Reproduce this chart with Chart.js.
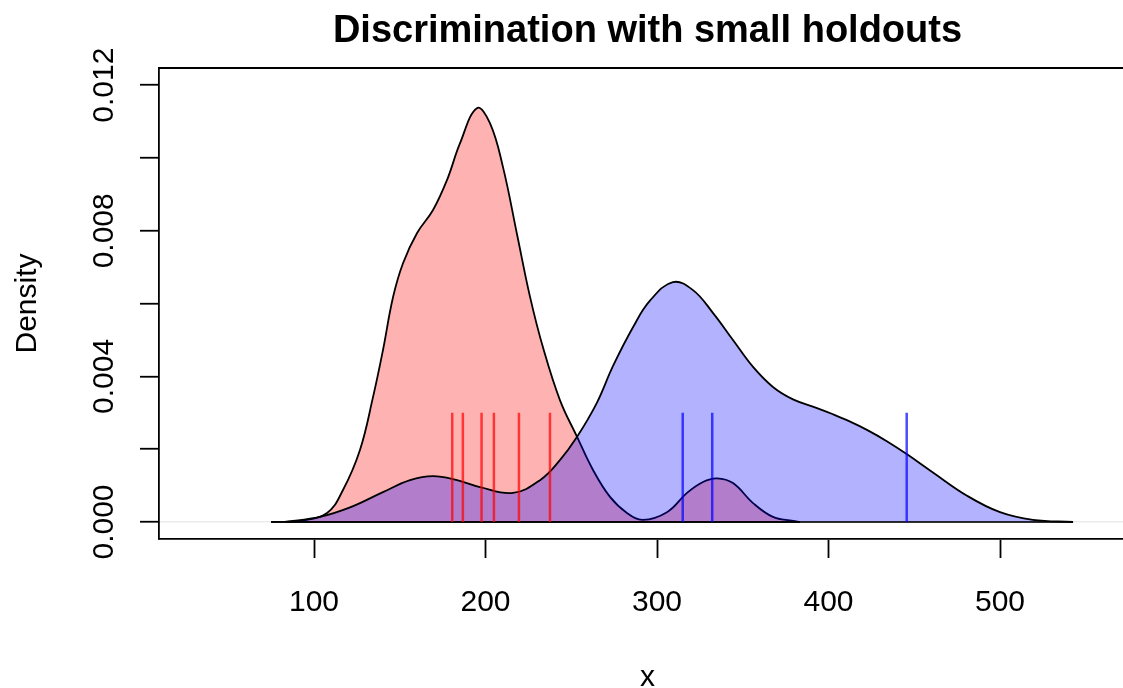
<!DOCTYPE html>
<html>
<head>
<meta charset="utf-8">
<script src="https://cdn.jsdelivr.net/npm/chart.js@4.4.1/dist/chart.umd.min.js"></script>
<style>
  html, body { margin: 0; padding: 0; background: #fff; overflow: hidden; width: 1123px; height: 688px; }
  canvas { display: block; }
</style>
</head>
<body>
<canvas id="c" width="1146" height="688"></canvas>
<script>
// ---- data ----
const TITLE = 'Discrimination with small holdouts';
const X_LABEL = 'x';
const Y_LABEL = 'Density';

const redX = [75, 91.8, 107.6, 116.9, 126.8, 134.4, 140.2, 146.1, 151.9, 160.1, 169.4, 177.6, 185.1, 195, 202.6, 210.2, 218.4, 225.9, 233.5, 243.4, 253.4, 262.7, 272.6, 282.5, 291.8, 305.8, 317.5, 326.8, 335, 344.3, 356, 367.6, 379.3, 383.4];
const redY = [0, 0.00003, 0.00025, 0.00088, 0.00198, 0.00343, 0.00472, 0.00618, 0.00711, 0.00794, 0.00857, 0.0094, 0.0104, 0.01137, 0.01096, 0.00975, 0.0079, 0.0062, 0.0048, 0.00335, 0.00234, 0.00143, 0.00069, 0.00025, 0.00006, 0.00027, 0.0008, 0.0011, 0.0012, 0.00107, 0.00052, 0.00014, 0.00003, 0];

const blueX = [83, 103.5, 121, 140.2, 156, 169.4, 183.4, 196.8, 216, 231.8, 243.4, 253.4, 265, 274.3, 286, 295.9, 309.3, 321, 332.7, 344.3, 356, 367.6, 379.3, 393.3, 402.6, 412, 422.4, 434, 445.8, 460.9, 480.8, 500, 519.2, 542.6];
const blueY = [0, 0.00014, 0.0004, 0.00082, 0.00115, 0.00126, 0.00115, 0.00096, 0.0008, 0.00115, 0.0017, 0.00234, 0.00328, 0.00428, 0.00535, 0.00608, 0.00659, 0.00637, 0.00574, 0.005, 0.00426, 0.00371, 0.00337, 0.00313, 0.00296, 0.00277, 0.00253, 0.00222, 0.00186, 0.00136, 0.00072, 0.00027, 0.00006, 0];

const redRug = [180.6, 186.8, 197.7, 204.9, 219.5, 237.6];
const blueRug = [315, 332.2, 445.6];
const RUG_TOP = 0.003;

const xTicks = [100, 200, 300, 400, 500];
const yTicks = [0, 0.002, 0.004, 0.006, 0.008, 0.010, 0.012];
const yLabelTicks = [0, 0.004, 0.008, 0.012];

// ---- helpers ----
const pts = (xs, ys) => xs.map((v, i) => ({ x: v, y: ys[i] }));
const rug = arr => arr.flatMap(v => [{ x: v, y: 0 }, { x: v, y: RUG_TOP }, { x: v, y: null }]);
const FONT = '"Liberation Sans", Arial, Helvetica, sans-serif';

const rPlugin = {
  id: 'rstyle',
  afterDraw(chart) {
    const { ctx, chartArea: a, scales: { y } } = chart;
    ctx.save();
    ctx.strokeStyle = '#000';
    ctx.lineWidth = 1.8;
    ctx.beginPath();
    ctx.moveTo(a.left - 0.9, a.top);
    ctx.lineTo(a.right + 30, a.top);
    ctx.stroke();

    ctx.fillStyle = '#000';
    ctx.textAlign = 'center';
    ctx.textBaseline = 'alphabetic';
    const cx = (a.left + a.right) / 2;
    ctx.font = 'bold 38px ' + FONT;
    ctx.fillText(TITLE, cx, 42);
    ctx.font = '30px ' + FONT;
    ctx.fillText(X_LABEL, cx, 686);

    yLabelTicks.forEach(v => {
      const py = y.getPixelForValue(v);
      ctx.save();
      ctx.translate(113, py);
      ctx.rotate(-Math.PI / 2);
      ctx.fillText(v.toFixed(3), 0, 0);
      ctx.restore();
    });

    ctx.save();
    ctx.translate(36, (a.top + a.bottom) / 2);
    ctx.rotate(-Math.PI / 2);
    ctx.fillText(Y_LABEL, 0, 0);
    ctx.restore();
    ctx.restore();
  }
};

new Chart(document.getElementById('c'), {
  type: 'line',
  data: {
    datasets: [
      { data: rug(redRug), borderColor: 'rgba(255,0,0,0.7)', borderWidth: 2.5, pointRadius: 0, spanGaps: false, fill: false, tension: 0, order: 1, borderCapStyle: 'butt' },
      { data: rug(blueRug), borderColor: 'rgba(0,0,255,0.7)', borderWidth: 2.5, pointRadius: 0, spanGaps: false, fill: false, tension: 0, order: 2, borderCapStyle: 'butt' },
      { data: [{ x: redX[0], y: 0 }, { x: redX[redX.length - 1], y: 0 }], borderColor: 'rgba(0,0,0,0.8)', borderWidth: 2, pointRadius: 0, fill: false, tension: 0, order: 3 },
      { data: [{ x: blueX[0], y: 0 }, { x: blueX[blueX.length - 1], y: 0 }], borderColor: 'rgba(0,0,0,0.8)', borderWidth: 2, pointRadius: 0, fill: false, tension: 0, order: 3 },
      { data: pts(blueX, blueY), borderColor: '#000', borderWidth: 1.8, backgroundColor: 'rgba(0,0,255,0.3)', fill: 'origin', pointRadius: 0, tension: 0.4, order: 4 },
      { data: pts(redX, redY), borderColor: '#000', borderWidth: 1.8, backgroundColor: 'rgba(255,0,0,0.3)', fill: 'origin', pointRadius: 0, tension: 0.4, order: 5 }
    ]
  },
  options: {
    responsive: false,
    animation: false,
    devicePixelRatio: 1,
    layout: { padding: { top: 68, right: 10, left: 0, bottom: 0 } },
    plugins: { legend: { display: false }, tooltip: { enabled: false }, title: { display: false } },
    scales: {
      x: {
        type: 'linear',
        min: 9.62,
        max: 579.3,
        afterBuildTicks: s => { s.ticks = xTicks.map(v => ({ value: v })); },
        afterFit: s => { s.height = 149; },
        border: { display: true, color: '#000', width: 1.8 },
        grid: { drawOnChartArea: false, drawTicks: true, tickLength: 19, tickColor: '#000', tickWidth: 1.8 },
        ticks: { color: '#000', font: { family: FONT, size: 30 }, padding: 27, maxRotation: 0, minRotation: 0, callback: v => String(v) }
      },
      y: {
        type: 'linear',
        min: -0.000467,
        max: 0.012473,
        afterBuildTicks: s => { s.ticks = yTicks.map(v => ({ value: v })); },
        afterFit: s => { s.width = 159; },
        border: { display: true, color: '#000', width: 1.8 },
        grid: {
          drawOnChartArea: true, drawTicks: true, tickLength: 19, tickColor: '#000', tickWidth: 1.8,
          color: c => (c.tick && c.tick.value === 0 ? '#ececec' : 'rgba(0,0,0,0)'), lineWidth: 1.5
        },
        ticks: { display: false }
      }
    }
  },
  plugins: [rPlugin]
});
</script>
</body>
</html>
